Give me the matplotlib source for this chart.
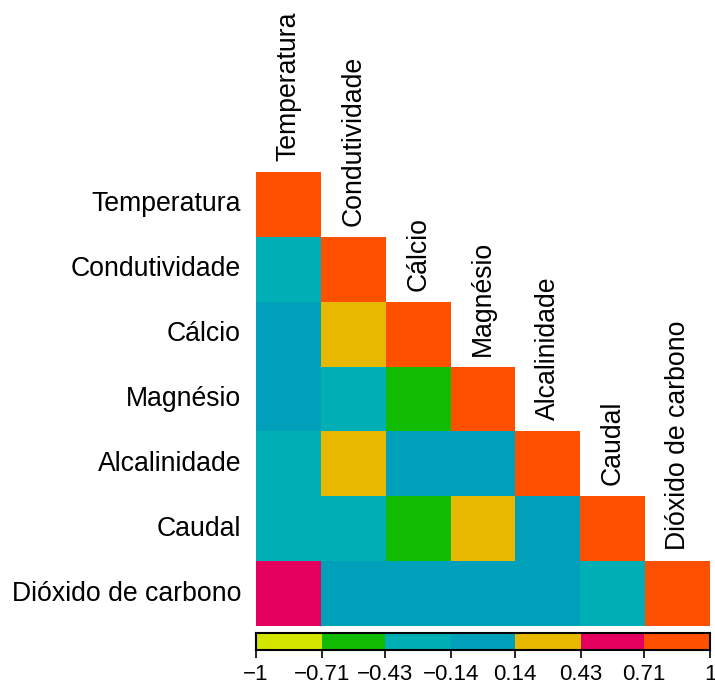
import numpy as np
import matplotlib
matplotlib.use('Agg')
from matplotlib import pyplot as plt
from matplotlib.colors import ListedColormap, BoundaryNorm

plt.rcParams['font.family'] = ['Liberation Sans', 'DejaVu Sans']

# variable names
names = ['Temperatura', 'Condutividade', 'Cálcio', 'Magnésio',
         'Alcalinidade', 'Caudal', 'Dióxido de carbono']

# lower triangle correlations (row by row, estimated from colour bins)
corr_rows = [
    [1.0],
    [-0.30, 1.0],
    [0.00, 0.30, 1.0],
    [0.00, -0.30, -0.55, 1.0],
    [-0.30, 0.30, 0.00, 0.00, 1.0],
    [-0.30, -0.30, -0.55, 0.30, 0.00, 1.0],
    [0.60, 0.00, 0.00, 0.00, 0.00, -0.30, 1.0],
]

bin_colors = ['#D4E600', '#10BB00', '#00AEB6', '#00A0BB',
              '#E8B800', '#E5005F', '#FF5000']
bounds = [-1, -0.71, -0.43, -0.14, 0.14, 0.43, 0.71, 1]
tick_labels = ['\u22121', '\u22120.71', '\u22120.43', '\u22120.14',
               '0.14', '0.43', '0.71', '1']

n = len(names)
mat = np.full((n, n), np.nan)
for i, row in enumerate(corr_rows):
    for j, v in enumerate(row):
        mat[i, j] = v
mat = np.ma.masked_invalid(mat)

cmap = ListedColormap(bin_colors)
norm = BoundaryNorm(bounds, cmap.N)

W, H = 715, 686
fig = plt.figure(figsize=(W / 100.0, H / 100.0), dpi=100)

gl, gr, gt, gb = 256, 710, 172, 626
ax = fig.add_axes([gl / W, 1 - gb / H, (gr - gl) / W, (gb - gt) / H])
ax.pcolormesh(np.arange(n + 1), np.arange(n + 1), mat, cmap=cmap, norm=norm,
              edgecolors='none')
ax.set_xlim(0, n)
ax.set_ylim(n, 0)
ax.axis('off')

for i, name in enumerate(names):
    ax.text(-0.23, i + 0.5, name, ha='right', va='center', fontsize=19.2)
    ax.text(i + 0.5, i - 0.17, name, ha='center', va='bottom', rotation=90,
            fontsize=19.2)

# colour legend
cax = fig.add_axes([gl / W, 1 - 650 / H, (gr - gl) / W, 17 / H])
for k in range(len(bin_colors)):
    cax.axvspan(bounds[k], bounds[k + 1], color=bin_colors[k], lw=0)
cax.set_xlim(-1, 1)
cax.set_ylim(0, 1)
cax.set_yticks([])
cax.set_xticks(bounds)
cax.set_xticklabels(tick_labels, fontsize=16)
cax.tick_params(axis='x', length=6, width=1.2, pad=4)
for s in cax.spines.values():
    s.set_linewidth(1.5)

fig.savefig('out.png', dpi=100)
